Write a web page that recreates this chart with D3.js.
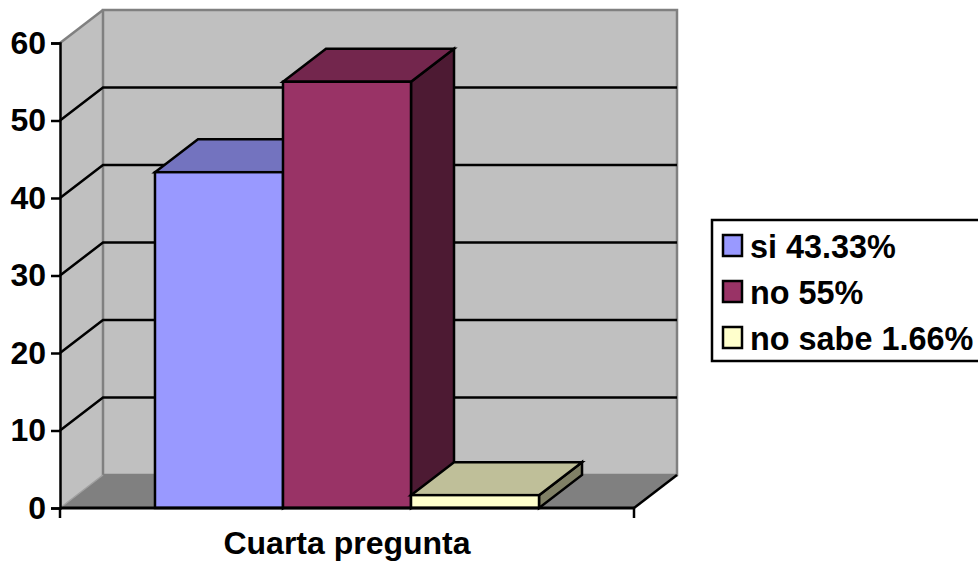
<!DOCTYPE html>
<html>
<head>
<meta charset="utf-8">
<style>
  html, body { margin: 0; padding: 0; background: #fff; }
  svg { display: block; }
  text { font-family: "Liberation Sans", Arial, sans-serif; font-weight: bold; fill: #000; }
</style>
<script src="https://cdn.jsdelivr.net/npm/d3@7"></script>
</head>
<body>
<svg id="chart" width="978" height="562"></svg>
<script>
// Survey results for one question, as a 3-D clustered column chart.
const category = "Cuarta pregunta";
const seriesNames = ["si 43.33%", "no 55%", "no sabe 1.66%"];
const seriesValues = [43.33, 55, 1.66];
const yTicks = [0, 10, 20, 30, 40, 50, 60];
const frontColors = ["#9999FF", "#993366", "#FFFFCC"];
const topColors = ["#7373BF", "#73264D", "#BFBF99"];
const sideColors = ["#4D4D80", "#4D1A33", "#808066"];

const plot = { left: 60, right: 634, top: 43, bottom: 508 };
const depth = { dx: 43, dy: -33 };
const FONT_SIZE = "32px";
const LEGEND_FONT_SIZE = "32.4px";

const svg = d3.select("#chart");
const y = d3.scaleLinear().domain([0, 60]).range([plot.bottom, plot.top]);
const x = d3.scaleBand().domain(seriesNames)
  .range([plot.left, plot.right]).paddingInner(0).paddingOuter(0.742);

// Projects a front-plane point onto the back plane of the 3-D box.
const back = ([px, py]) => [px + depth.dx, py + depth.dy];
const poly = pts => pts.map(p => p.join(",")).join(" ");

const WALL = "#C0C0C0", EDGE = "#808080";

// Side wall, back wall and floor
const yTop = y(60), y0 = y(0);
svg.append("polygon")
  .attr("points", poly([[plot.left, y0], [plot.left, yTop], back([plot.left, yTop]), back([plot.left, y0])]))
  .attr("fill", WALL);
svg.append("polygon")
  .attr("points", poly([back([plot.left, y0]), back([plot.left, yTop]), back([plot.right, yTop]), back([plot.right, y0])]))
  .attr("fill", WALL).attr("stroke", EDGE).attr("stroke-width", 2.5);
svg.append("polygon")
  .attr("points", poly([[plot.left, y0], back([plot.left, y0]), back([plot.right, y0]), [plot.right, y0]]))
  .attr("fill", EDGE);
svg.append("line")
  .attr("x1", plot.left).attr("y1", yTop)
  .attr("x2", back([plot.left, yTop])[0]).attr("y2", back([plot.left, yTop])[1])
  .attr("stroke", EDGE).attr("stroke-width", 2.5);
svg.append("line")
  .attr("x1", plot.left).attr("y1", y0)
  .attr("x2", back([plot.left, y0])[0]).attr("y2", back([plot.left, y0])[1])
  .attr("stroke", "#A0A0A0").attr("stroke-width", 1.5);

// Gridlines run along the side wall, then across the back wall
const gridTicks = yTicks.filter(t => t > 0 && t < 60);
svg.append("g").selectAll("polyline").data(gridTicks).join("polyline")
  .attr("points", t => poly([[plot.left, y(t)], back([plot.left, y(t)]), back([plot.right, y(t)])]))
  .attr("fill", "none").attr("stroke", "#000").attr("stroke-width", 2.5);

// Right-hand floor edge
svg.append("line")
  .attr("x1", plot.right).attr("y1", y0)
  .attr("x2", back([plot.right, y0])[0]).attr("y2", back([plot.right, y0])[1])
  .attr("stroke", "#000").attr("stroke-width", 2.5);

// Columns: each one has a side, a top and a front face
const bars = svg.append("g").selectAll("g").data(seriesValues).join("g")
  .attr("stroke", "#000").attr("stroke-width", 2.5).attr("stroke-linejoin", "miter");
bars.append("polygon")
  .attr("points", (d, i) => {
    const r = x(seriesNames[i]) + x.bandwidth();
    return poly([[r, y(d)], back([r, y(d)]), back([r, y0]), [r, y0]]);
  })
  .attr("fill", (d, i) => sideColors[i]);
bars.append("polygon")
  .attr("points", (d, i) => {
    const l = x(seriesNames[i]), r = l + x.bandwidth();
    return poly([[l, y(d)], back([l, y(d)]), back([r, y(d)]), [r, y(d)]]);
  })
  .attr("fill", (d, i) => topColors[i]);
bars.append("rect")
  .attr("x", (d, i) => x(seriesNames[i]))
  .attr("y", d => y(d))
  .attr("width", x.bandwidth())
  .attr("height", d => y0 - y(d))
  .attr("fill", (d, i) => frontColors[i]);

// Value axis
const axis = svg.append("g")
  .attr("transform", `translate(${plot.left},0)`)
  .call(d3.axisLeft(y).tickValues(yTicks).tickSize(9).tickPadding(5).tickFormat(d3.format("d")));
axis.select(".domain").attr("stroke", "#000").attr("stroke-width", 2.5);
axis.selectAll(".tick line").attr("stroke", "#000").attr("stroke-width", 2.5);
axis.selectAll(".tick text")
  .style("font-family", '"Liberation Sans", Arial, sans-serif')
  .style("font-weight", "bold")
  .style("font-size", FONT_SIZE);

// Category axis
svg.append("line")
  .attr("x1", plot.left).attr("x2", plot.right).attr("y1", y0).attr("y2", y0)
  .attr("stroke", "#000").attr("stroke-width", 3);
svg.append("g").selectAll("line").data([plot.left, plot.right]).join("line")
  .attr("x1", d => d).attr("x2", d => d)
  .attr("y1", y0).attr("y2", y0 + 10)
  .attr("stroke", "#000").attr("stroke-width", 2.5);
svg.append("text")
  .attr("x", (plot.left + plot.right) / 2).attr("y", 554)
  .attr("text-anchor", "middle").style("font-size", FONT_SIZE)
  .text(category);

// Legend
const legend = svg.append("g");
legend.append("rect")
  .attr("x", 712).attr("y", 220).attr("width", 280).attr("height", 141)
  .attr("fill", "#fff").attr("stroke", "#000").attr("stroke-width", 2.5);
const rowY = d3.scalePoint().domain(seriesNames).range([246, 338]);
const rows = legend.selectAll(".row").data(seriesNames).join("g").attr("class", "row")
  .attr("transform", d => `translate(0,${rowY(d)})`);
rows.append("rect")
  .attr("x", 723).attr("y", -11).attr("width", 19).attr("height", 21)
  .attr("fill", (d, i) => frontColors[i]).attr("stroke", "#000").attr("stroke-width", 2.5);
rows.append("text")
  .attr("x", 750).attr("y", 12).style("font-size", LEGEND_FONT_SIZE)
  .text(d => d);
</script>
</body>
</html>
